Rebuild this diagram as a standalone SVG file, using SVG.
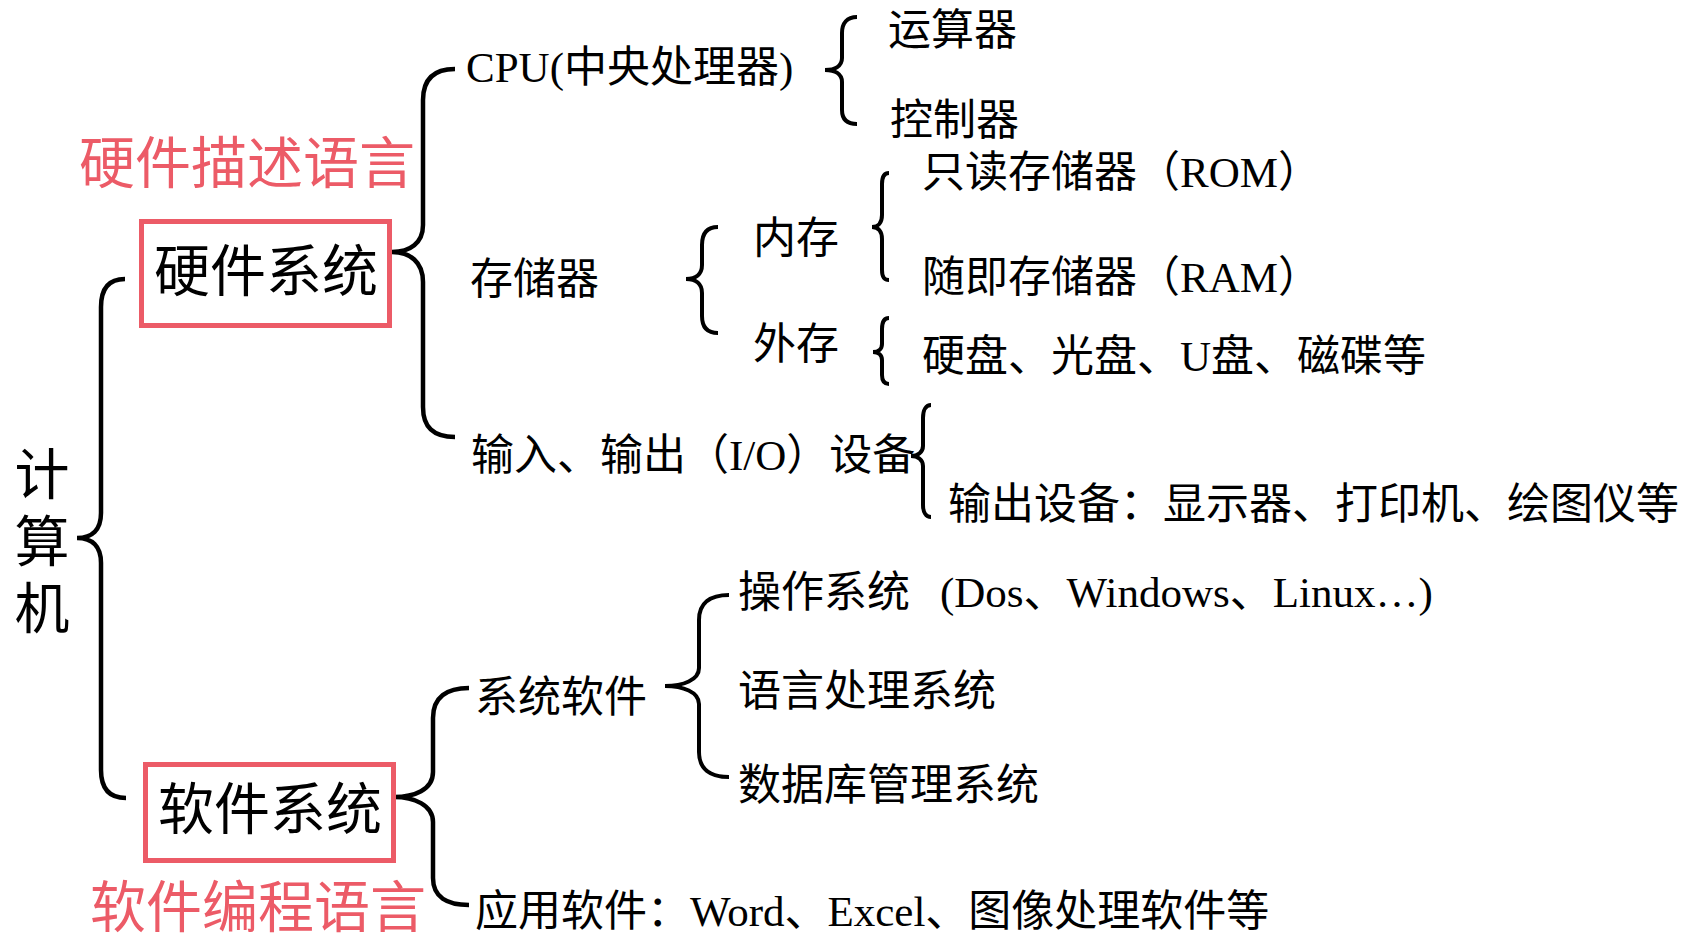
<svg xmlns="http://www.w3.org/2000/svg" width="1681" height="936" viewBox="0 0 1681 936">
<style>
  .t { font-family: "Liberation Serif", "Noto Sans CJK SC", serif; font-size: 43px; fill: #000; }
  .big { font-family: "Noto Sans CJK SC", sans-serif; font-size: 56px; fill: #000; text-anchor: middle; }
  .red { font-family: "Noto Sans CJK SC", sans-serif; font-size: 56px; fill: #EC5B67; text-anchor: middle; }
  .root { font-family: "Noto Sans CJK SC", sans-serif; font-size: 55px; fill: #000; writing-mode: vertical-rl; letter-spacing: 12px; }
  .box { fill: none; stroke: #EC5B67; stroke-width: 5; }
  .br { fill: none; stroke: #000; stroke-width: 4.5; }
  .brs { fill: none; stroke: #000; stroke-width: 4; }
</style>
<rect width="1681" height="936" fill="#fff"/>

<g id="connectors">
  <path class="br" d="M125,279 C108,279 101,290 101,307 L101,513 C101,530 92,538 77,538 C92,538 101,546 101,563 L101,770 C101,787 108,798 126,798"/>
  <path class="br" d="M455,69 C433,69 423,80 423,100 L423,225 C423,243 410,252 392,252 C410,252 423,262 423,282 L423,407 C423,427 433,437 455,437"/>
  <path class="br" d="M469,688 C447,688 433,697 433,718 L433,772 C433,790 414,797 394,797 C414,797 433,805 433,822 L433,878 C433,897 447,905 469,905"/>
  <path class="brs" d="M857,17 C847,17 842,23 842,33 L842,58 C842,66 835,70 825,70 C835,70 842,74 842,82 L842,110 C842,119 847,124 857,124"/>
  <path class="brs" d="M718,227 C707,227 702,233 702,245 L702,265 C702,274 696,279 686,279 C696,279 702,284 702,293 L702,316 C702,327 707,333 718,333"/>
  <path class="brs" d="M889,173 C884,173 882,177 882,184 L882,215 C882,223 878,227 872,227 C878,227 882,231 882,239 L882,270 C882,277 884,280 889,280"/>
  <path class="brs" d="M889,318 C884,318 882,322 882,329 L882,344 C882,349 878,352 873,352 C878,352 882,355 882,360 L882,375 C882,381 884,384 889,384"/>
  <path class="brs" d="M931,405 C926,405 923,410 923,418 L923,446 C923,452 918,456 911,456 C918,456 923,460 923,466 L923,505 C923,512 926,517 931,517"/>
  <path class="brs" d="M729,595 C710,595 699,603 699,620 L699,668 C699,680 683,686 665,686 C683,686 699,692 699,704 L699,752 C699,769 710,777 729,777"/>
</g>

<g id="computer">
  <text class="root" x="42" y="446">计算机</text>
</g>

<g id="hw-lang"><text class="red" x="247" y="183">硬件描述语言</text></g>
<g id="hardware">
  <rect class="box" x="141.5" y="221.5" width="248" height="104"/>
  <text class="big" x="266" y="291">硬件系统</text>
</g>
<g id="software">
  <rect class="box" x="145.5" y="764.5" width="248" height="96"/>
  <text class="big" x="270" y="829">软件系统</text>
</g>
<g id="sw-lang"><text class="red" x="258" y="927">软件编程语言</text></g>

<g id="cpu"><text class="t" x="466" y="82">CPU(中央处理器)</text></g>
<g id="alu"><text class="t" x="888" y="45">运算器</text></g>
<g id="ctrl"><text class="t" x="890" y="135">控制器</text></g>
<g id="memory"><text class="t" x="470" y="294">存储器</text></g>
<g id="internal"><text class="t" x="753" y="253">内存</text></g>
<g id="external"><text class="t" x="753" y="359">外存</text></g>
<g id="rom"><text class="t" x="922" y="187">只读存储器（ROM）</text></g>
<g id="ram"><text class="t" x="922" y="292">随即存储器（RAM）</text></g>
<g id="disks"><text class="t" x="922" y="371">硬盘、光盘、U盘、磁碟等</text></g>
<g id="io"><text class="t" x="471" y="470">输入、输出（I/O）设备</text></g>
<g id="output"><text class="t" x="948" y="519">输出设备：显示器、打印机、绘图仪等</text></g>
<g id="syssw"><text class="t" x="475" y="712">系统软件</text></g>
<g id="os"><text class="t" x="738" y="607">操作系统<tspan x="940">(Dos、Windows、Linux…)</tspan></text></g>
<g id="langproc"><text class="t" x="738" y="706">语言处理系统</text></g>
<g id="dbms"><text class="t" x="738" y="800">数据库管理系统</text></g>
<g id="appsw"><text class="t" x="475" y="926">应用软件：Word、Excel、图像处理软件等</text></g>
</svg>
